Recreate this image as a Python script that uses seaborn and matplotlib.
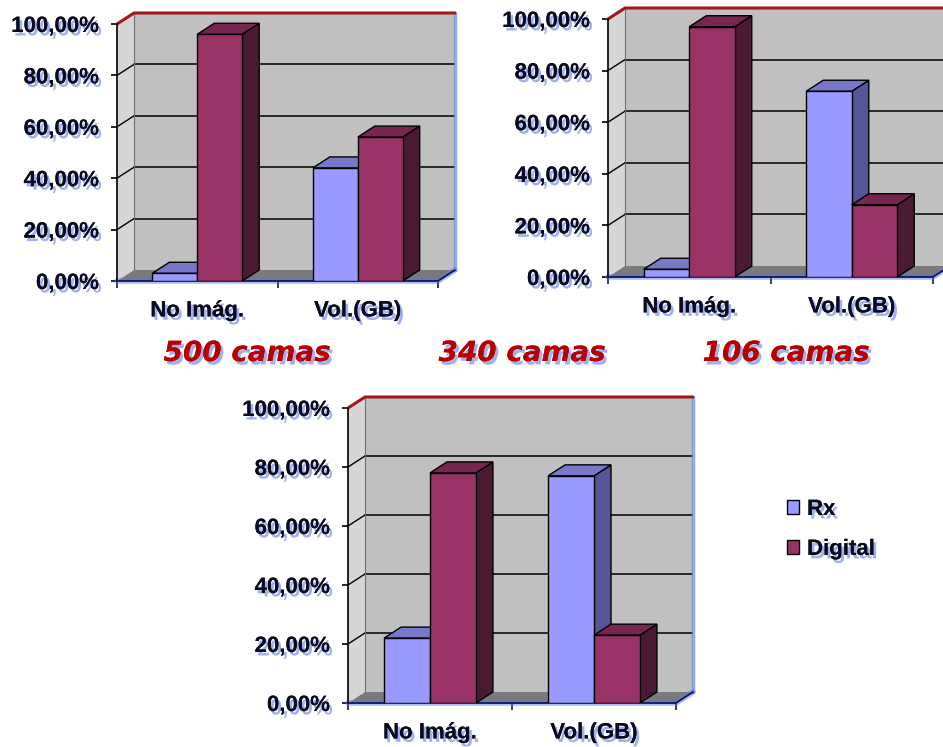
import matplotlib
matplotlib.use("Agg")
import pandas as pd
import matplotlib.pyplot as plt
import matplotlib.patheffects as pe
from matplotlib.patches import Polygon, Patch
import seaborn as sns

# datos
categorias = ["No Imág.", "Vol.(GB)"]
series = ["Rx", "Digital"]
rx_500 = [3, 44]
digital_500 = [96, 56]
rx_106 = [3, 72]
digital_106 = [97, 28]
rx_340 = [22, 77]
digital_340 = [78, 23]
titulos = ["500 camas", "340 camas", "106 camas"]
yticks = [0, 20, 40, 60, 80, 100]

# colores (frente / arriba / lado)
c_frente = {"Rx": "#9999FF", "Digital": "#993366"}
c_arriba = {"Rx": "#7878C8", "Digital": "#762650"}
c_lado = {"Rx": "#55559A", "Digital": "#4A1A33"}

sns.set_theme(style="white")
plt.rcParams["font.family"] = ["Liberation Sans", "DejaVu Sans"]

W, H = 943, 747
fig = plt.figure(figsize=(W / 100, H / 100), dpi=100)

sombra = [pe.withSimplePatchShadow(offset=(2, -2.5), shadow_rgbFace="#3050E0", alpha=0.45), pe.Normal()]
PROF = (17, 11)  # profundidad 3D en px


def grafico(caja, rx, dig):
    izq, arr, der, aba = caja
    ax = fig.add_axes([izq / W, 1 - aba / H, (der - izq) / W, (aba - arr) / H])
    wp, hp = der - izq, aba - arr
    dx = PROF[0] * 2 / (wp - PROF[0])
    dy = PROF[1] * 100 / (hp - PROF[1])

    df = pd.DataFrame({
        "cat": categorias * 2,
        "serie": [series[0]] * 2 + [series[1]] * 2,
        "valor": list(rx) + list(dig),
    })
    sns.barplot(data=df, x="cat", y="valor", hue="serie", palette=c_frente,
                width=0.56, saturation=1, edgecolor="black", linewidth=1,
                legend=False, ax=ax)
    barras = sorted(ax.patches, key=lambda p: p.get_x())

    x0, x1 = -0.5, 1.5
    ax.set_xlim(x0, x1 + dx)
    ax.set_ylim(0, 100 + dy)
    ax.patch.set_visible(False)
    for s in ax.spines.values():
        s.set_visible(False)

    # paredes y suelo
    ax.add_patch(Polygon([(x0 + dx, dy), (x1 + dx, dy), (x1 + dx, 100 + dy), (x0 + dx, 100 + dy)],
                         closed=True, facecolor="#C0C0C0", edgecolor="none", zorder=0))
    ax.add_patch(Polygon([(x0, 0), (x0 + dx, dy), (x0 + dx, 100 + dy), (x0, 100)],
                         closed=True, facecolor="#D6D6D6", edgecolor="none", zorder=0))
    ax.add_patch(Polygon([(x0, 0), (x1, 0), (x1 + dx, dy), (x0 + dx, dy)],
                         closed=True, facecolor="#7A7A7A", edgecolor="none", zorder=1))
    for v in yticks[1:-1]:
        ax.plot([x0 + dx, x1 + dx], [v + dy, v + dy], color="black", lw=1.1, zorder=0.5)
        ax.plot([x0, x0 + dx], [v, v + dy], color="black", lw=1, zorder=0.5)
    ax.plot([x0 + dx, x0 + dx], [dy, 100 + dy], color="#707070", lw=0.8, zorder=0.5)
    ax.plot([x0, x0 + dx, x1 + dx], [100, 100 + dy, 100 + dy], color="#A01818", lw=2.2,
            zorder=2, clip_on=False, solid_capstyle="round")
    ax.plot([x1 + dx, x1 + dx], [dy, 100 + dy], color="#6A86E8", lw=2.5, alpha=0.7,
            zorder=0.6, clip_on=False)
    ax.plot([x0, x0], [0, 100], color="black", lw=1.2, zorder=2, clip_on=False)
    ax.plot([x0, x1, x1 + dx], [0, 0, dy], color="#5577EE", lw=4, alpha=0.5,
            zorder=1.5, clip_on=False)
    ax.plot([x0, x1, x1 + dx], [0, 0, dy], color="#101850", lw=1.3, zorder=2, clip_on=False)

    # barras en 3D
    for i, p in enumerate(barras):
        serie = series[i % 2]
        x, w, h = p.get_x(), p.get_width(), p.get_height()
        z = 3 + i
        ax.add_patch(Polygon([(x + w, 0), (x + w + dx, dy), (x + w + dx, h + dy), (x + w, h)],
                             closed=True, facecolor=c_lado[serie], edgecolor="black", lw=1, zorder=z))
        ax.add_patch(Polygon([(x, h), (x + dx, h + dy), (x + w + dx, h + dy), (x + w, h)],
                             closed=True, facecolor=c_arriba[serie], edgecolor="black", lw=1, zorder=z))
        p.set_zorder(z + 0.5)

    ax.set_yticks(yticks)
    ax.set_yticklabels([f"{v:.2f}%".replace(".", ",") for v in yticks])
    ax.set_xticks([0, 1])
    ax.set_xticklabels(categorias)
    ax.set_xticks([x0, 0.5, x1], minor=True)
    ax.tick_params(axis="y", left=True, length=4, width=1.2, color="black", pad=9,
                   labelsize=16)
    ax.tick_params(axis="x", which="major", bottom=False, length=0, pad=14, labelsize=16)
    ax.tick_params(axis="x", which="minor", bottom=True, length=5, width=1.2, color="#101850")
    ax.set_xlabel("")
    ax.set_ylabel("")
    for t in ax.get_yticklabels() + ax.get_xticklabels():
        t.set_fontweight("bold")
        t.set_color("#0A0A1E")
        t.set_path_effects(sombra)
    return ax


grafico((117, 13, 455, 281), rx_500, digital_500)
grafico((608, 8, 950, 277), rx_106, digital_106)
grafico((348, 397, 693, 703), rx_340, digital_340)

# titulos
for txt, xc in zip(titulos, [247, 522, 786]):
    fig.text(xc / W, 1 - 353 / H, txt, ha="center", va="center", fontsize=20,
             fontweight="heavy", fontstyle="italic", color="#B80000",
             family=["DejaVu Sans"], path_effects=sombra)

# leyenda
manijas = [Patch(facecolor=c_frente[s], edgecolor="black", label=s) for s in series]
leg = fig.legend(handles=manijas, loc="upper left", bbox_to_anchor=(767 / W, 1 - 479 / H),
                 frameon=False, handlelength=0.55, handleheight=0.55, handletextpad=0.35,
                 labelspacing=0.85, prop={"size": 16, "weight": "bold"})
for t in leg.get_texts():
    t.set_path_effects(sombra)
    t.set_color("#0A0A1E")

fig.savefig("out.png", dpi=100)
